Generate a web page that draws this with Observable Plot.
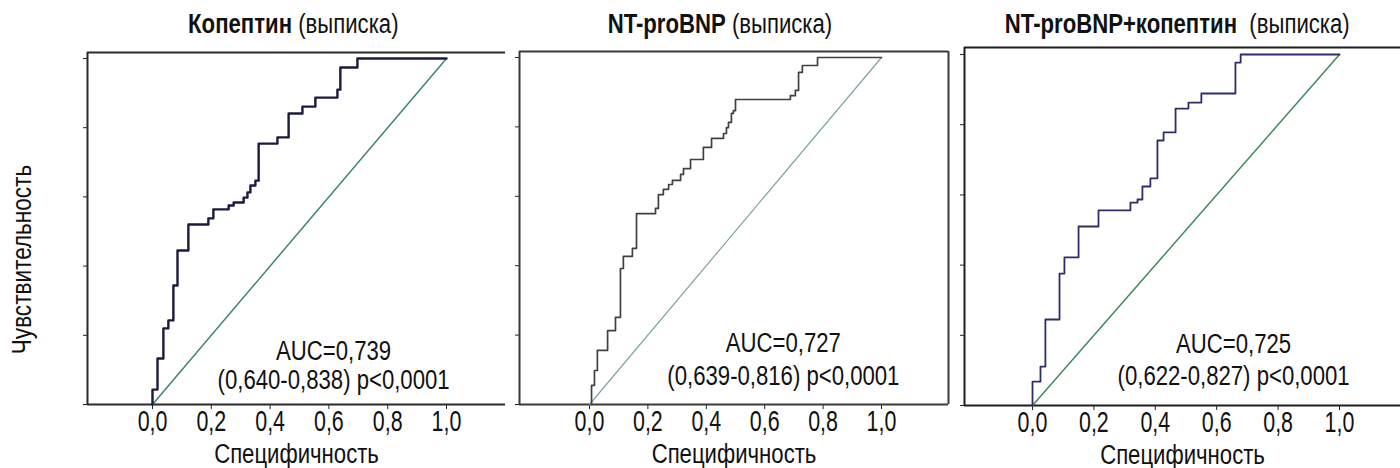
<!DOCTYPE html>
<html><head><meta charset="utf-8">
<script src="https://cdn.jsdelivr.net/npm/d3@7"></script>
<script src="https://cdn.jsdelivr.net/npm/@observablehq/plot@0.6"></script>
<style>
html,body{margin:0;padding:0;background:#fff;}
#root{position:relative;width:1400px;height:468px;overflow:hidden;background:#fff;}
.panel{position:absolute;top:0;}
.title{position:absolute;top:11px;width:500px;text-align:center;font-size:27px;line-height:27px;color:#111;white-space:pre;}
.title span.inner{display:inline-block;transform-origin:50% 50%;}
</style></head><body><div id="root"></div>
<script>
// ---- data ----
const xTicks = [0, 0.2, 0.4, 0.6, 0.8, 1.0];
const yTicks = [0, 0.2, 0.4, 0.6, 0.8, 1.0];
const titlesBold = ["Копептин", "NT-proBNP", "NT-proBNP+копептин"];
const titlesRest = [" (выписка)", " (выписка)", "  (выписка)"];
const xLabel = "Специфичность";
const yLabel = "Чувствительность";
const aucValues = ["0,739", "0,727", "0,725"];
const aucCI = ["0,640-0,838", "0,639-0,816", "0,622-0,827"];
const pValue = "p<0,0001";
const diagonal = [0, 1];

const copeptinX = [0, 0.017, 0.037, 0.054, 0.071, 0.085, 0.122, 0.190, 0.207, 0.259, 0.276, 0.310, 0.323, 0.333, 0.350, 0.361, 0.425, 0.463, 0.510, 0.554, 0.629, 0.639, 0.697, 0.990, 1.0];
const copeptinY = [0, 0.043, 0.133, 0.220, 0.243, 0.344, 0.445, 0.520, 0.538, 0.564, 0.575, 0.584, 0.598, 0.613, 0.633, 0.647, 0.754, 0.772, 0.841, 0.861, 0.887, 0.910, 0.974, 1.0, 1.0];

const ntprobnpX = [0.007, 0.017, 0.027, 0.062, 0.089, 0.106, 0.116, 0.147, 0.161, 0.226, 0.236, 0.253, 0.271, 0.284, 0.312, 0.322, 0.346, 0.390, 0.418, 0.459, 0.469, 0.476, 0.486, 0.493, 0.500, 0.688, 0.705, 0.716, 0.729, 0.781, 1.0];
const ntprobnpY = [0, 0.055, 0.098, 0.156, 0.213, 0.251, 0.392, 0.427, 0.450, 0.550, 0.565, 0.605, 0.620, 0.634, 0.646, 0.663, 0.680, 0.706, 0.741, 0.767, 0.781, 0.798, 0.813, 0.839, 0.847, 0.879, 0.890, 0.905, 0.957, 0.977, 1.0];

const combinedX = [0, 0.026, 0.042, 0.088, 0.104, 0.150, 0.215, 0.319, 0.342, 0.358, 0.384, 0.407, 0.427, 0.466, 0.508, 0.550, 0.661, 0.678, 0.977, 1.0];
const combinedY = [0, 0.068, 0.111, 0.245, 0.376, 0.422, 0.510, 0.556, 0.578, 0.587, 0.624, 0.647, 0.755, 0.778, 0.846, 0.863, 0.889, 0.977, 1.0, 1.0];

// ---- font detection ----
function available(f) {
  const c = document.createElement("canvas").getContext("2d");
  const s = "Специфичность 0,0 AUC=0,739 WwMm";
  c.font = "40px monospace"; const a = c.measureText(s).width;
  c.font = `40px "${f}", monospace`; const b = c.measureText(s).width;
  return Math.abs(a - b) > 1;
}
let FONT = ["Liberation Sans Narrow", "Arial Narrow"].find(available);
let K = 1;
if (!FONT) { FONT = "Liberation Sans"; K = 0.82; }
const FF = `"${FONT}", "Liberation Sans", Arial, sans-serif`;

// ---- layout / style ----
const panels = [
  {left: 0, width: 505, mL: 87, mR: 0, mT: 52, mB: 64, xDom: [-0.2211, 1.2007], yDom: [0, 1.0173],
   xs: copeptinX, ys: copeptinY, curve: "#1b1b3d", curveW: 2.4, diag: "#3f8472", diagW: 1.5,
   axis: "#2a2a2a", right: false, titleCx: 293, aucX: 0.616, aucY1: 0.130, aucY2: 0.046, labelDy: 58},
  {left: 505, width: 445, mL: 14, mR: 2, mT: 51, mB: 64, xDom: [-0.2397, 1.2295], yDom: [0, 1.0173],
   xs: ntprobnpX, ys: ntprobnpY, curve: "#404040", curveW: 1.7, diag: "#7fa3a3", diagW: 1.2,
   axis: "#3a3a3a", right: true, titleCx: 720, aucX: 0.664, aucY1: 0.150, aucY2: 0.055, labelDy: 58},
  {left: 950, width: 450, mL: 14, mR: 0, mT: 47, mB: 63, xDom: [-0.2215, 1.1987], yDom: [0, 1.02],
   xs: combinedX, ys: combinedY, curve: "#2d2d6b", curveW: 1.8, diag: "#3e8a5e", diagW: 1.5,
   axis: "#1e1e1e", right: false, titleCx: 1177, aucX: 0.655, aucY1: 0.151, aucY2: 0.057, labelDy: 58}
];

const fmt = d => d.toFixed(1).replace(".", ",");
const root = document.getElementById("root");

panels.forEach((p, i) => {
  const pts = p.xs.map((x, j) => ({x, y: p.ys[j]}));
  const marks = [
    Plot.ruleX([p.xDom[0]], {stroke: p.axis, strokeWidth: 2}),
    Plot.ruleY([p.yDom[1]], {stroke: p.axis, strokeWidth: 2}),
    Plot.ruleY([0], {stroke: p.axis, strokeWidth: 2})
  ];
  if (p.right) marks.push(Plot.ruleX([p.xDom[1]], {stroke: p.axis, strokeWidth: 2}));
  marks.push(
    Plot.line(diagonal, {x: d => d, y: d => d, stroke: p.diag, strokeWidth: p.diagW}),
    Plot.line(pts, {x: "x", y: "y", curve: "step-before", stroke: p.curve, strokeWidth: p.curveW}),
    Plot.text([`AUC=${aucValues[i]}`], {x: () => p.aucX, y: () => p.aucY1, lineAnchor: "bottom", fontSize: 27, fill: "#111"}),
    Plot.text([`(${aucCI[i]}) ${pValue}`], {x: () => p.aucX, y: () => p.aucY2, lineAnchor: "bottom", fontSize: 27, fill: "#111"}),
    Plot.text([xLabel], {frameAnchor: "bottom", lineAnchor: "bottom", textAnchor: "middle", dy: p.labelDy, fontSize: 27, fill: "#111"})
  );
  if (i === 0) {
    marks.push(Plot.text([yLabel], {frameAnchor: "left", textAnchor: "middle", rotate: -90, lineAnchor: "middle", dx: -65, dy: 31, fontSize: 27.5, fill: "#111"}));
  }
  const svg = Plot.plot({
    width: p.width, height: 468,
    marginLeft: p.mL, marginRight: p.mR, marginTop: p.mT, marginBottom: p.mB,
    style: {fontFamily: FF, fontSize: "30px", color: "#222", background: "transparent", overflow: "visible"},
    x: {domain: p.xDom, ticks: xTicks, tickFormat: fmt, tickSize: 5, tickPadding: 0, label: null},
    y: {domain: p.yDom, ticks: yTicks, tickFormat: () => "", tickSize: 4, label: null},
    marks
  });
  const wrap = document.createElement("div");
  wrap.className = "panel";
  wrap.style.left = p.left + "px";
  wrap.appendChild(svg);
  root.appendChild(wrap);

  const t = document.createElement("div");
  t.className = "title";
  t.style.left = (p.titleCx - 250) + "px";
  t.style.fontFamily = FF;
  const inner = document.createElement("span");
  inner.className = "inner";
  if (K !== 1) inner.style.transform = `scaleX(${K})`;
  const b = document.createElement("b"); b.textContent = titlesBold[i];
  inner.appendChild(b);
  inner.appendChild(document.createTextNode(titlesRest[i]));
  t.appendChild(inner);
  root.appendChild(t);
});

// tick labels: taller and narrower in the reference typeface
root.querySelectorAll("svg text").forEach(t => {
  if (t.querySelector("tspan")) return;
  const isTick = /^\d,\d$/.test(t.textContent.trim());
  if (isTick) { t.style.fontSize = "30px"; t.style.fontFamily = FF; t.setAttribute("fill", "#111"); }
  const k = (isTick ? 0.87 : 1) * K;
  if (k === 1) return;
  const L = t.getComputedTextLength();
  if (L > 0) { t.setAttribute("textLength", L * k); t.setAttribute("lengthAdjust", "spacingAndGlyphs"); }
});
</script></body></html>
